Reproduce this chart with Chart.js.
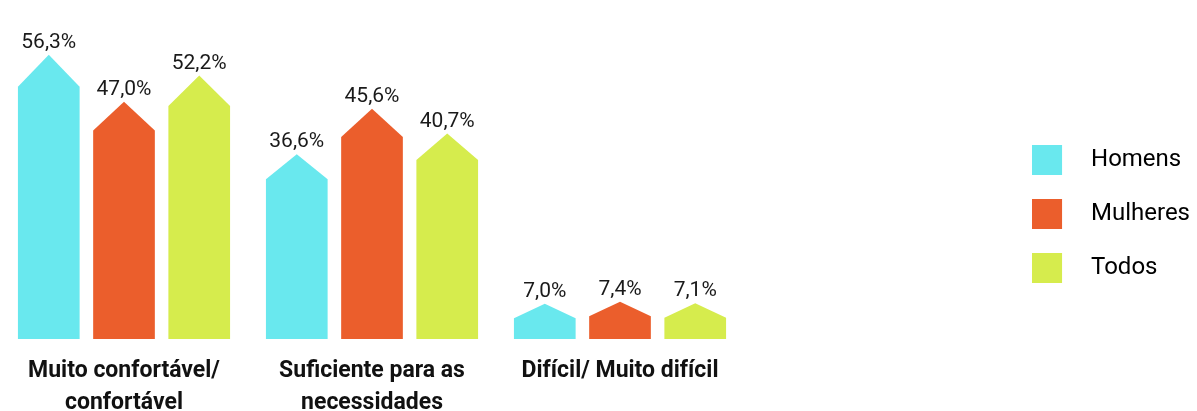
<!DOCTYPE html>
<html>
<head>
<meta charset="utf-8">
<script src="https://cdn.jsdelivr.net/npm/chart.js@4/dist/chart.umd.min.js"></script>
<style>
  html, body { margin: 0; padding: 0; background: #fff; }
  #wrap { width: 1197px; height: 411px; position: relative; }
</style>
</head>
<body>
<div id="wrap"><canvas id="c"></canvas></div>
<script>
const categories = [
  ['Muito confortável/', 'confortável'],
  ['Suficiente para as', 'necessidades'],
  'Difícil/ Muito difícil'
];
const seriesNames = ['Homens', 'Mulheres', 'Todos'];
const homens = [56.3, 36.6, 7.0];
const mulheres = [47.0, 45.6, 7.4];
const todos = [52.2, 40.7, 7.1];
const colors = ['#69E8EE', '#EB5E2C', '#D6EC4D'];

function fmt(v) { return v.toFixed(1).replace('.', ',') + '%'; }

function swatch(color) {
  const c = document.createElement('canvas');
  c.width = 47; c.height = 30;
  const g = c.getContext('2d');
  g.fillStyle = color;
  g.fillRect(0, 0, 30, 30);
  return c;
}

const houseBars = {
  id: 'houseBars',
  beforeDatasetDraw(chart, args) {
    const ctx = chart.ctx;
    const meta = args.meta;
    const ds = chart.data.datasets[args.index];
    ctx.save();
    meta.data.forEach((el, i) => {
      const { x, y, base, width } = el.getProps(['x', 'y', 'base', 'width'], true);
      const h = base - y;
      const roof = 12 + 0.07 * h;
      const l = x - width / 2, r = x + width / 2;
      ctx.beginPath();
      ctx.moveTo(l, base);
      ctx.lineTo(l, y + roof);
      ctx.lineTo(x, y);
      ctx.lineTo(r, y + roof);
      ctx.lineTo(r, base);
      ctx.closePath();
      ctx.fillStyle = ds.backgroundColor;
      ctx.fill();
      ctx.fillStyle = '#1a1a1a';
      ctx.font = '21px Roboto';
      ctx.textAlign = 'center';
      ctx.textBaseline = 'alphabetic';
      ctx.fillText(fmt(ds.data[i]), x, y - 7);
    });
    ctx.restore();
    return false;
  }
};

new Chart(document.getElementById('c'), {
  type: 'bar',
  data: {
    labels: categories,
    datasets: [
      { label: seriesNames[0], data: homens, backgroundColor: colors[0] },
      { label: seriesNames[1], data: mulheres, backgroundColor: colors[1] },
      { label: seriesNames[2], data: todos, backgroundColor: colors[2] }
    ]
  },
  options: {
    responsive: true,
    maintainAspectRatio: false,
    animation: false,
    layout: { padding: { top: 16, right: -3, bottom: 0, left: 0 } },
    datasets: { bar: { categoryPercentage: 0.91, barPercentage: 0.82 } },
    scales: {
      x: {
        grid: { display: false, drawTicks: false },
        border: { display: false },
        ticks: {
          autoSkip: false, maxRotation: 0, minRotation: 0, padding: 17,
          color: '#111',
          font: { family: 'Roboto', size: 23, weight: 'bold', lineHeight: 1.36 }
        },
        afterFit(scale) { scale.height = 72; }
      },
      y: {
        position: 'right',
        min: 0, max: 64,
        grid: { display: false, drawTicks: false },
        border: { display: false },
        ticks: { display: false },
        afterFit(scale) { scale.width = 258; }
      }
    },
    plugins: {
      tooltip: { enabled: false },
      legend: {
        position: 'right',
        labels: {
          usePointStyle: true,
          pointStyleWidth: 47,
          padding: 30,
          color: '#1a1a1a',
          font: { family: 'Roboto', size: 24 },
          generateLabels(chart) {
            return chart.data.datasets.map((d, i) => ({
              text: d.label,
              fillStyle: d.backgroundColor,
              strokeStyle: d.backgroundColor,
              lineWidth: 0,
              pointStyle: swatch(d.backgroundColor),
              datasetIndex: i,
              hidden: false
            }));
          }
        }
      }
    }
  },
  plugins: [houseBars]
});
</script>
</body>
</html>
